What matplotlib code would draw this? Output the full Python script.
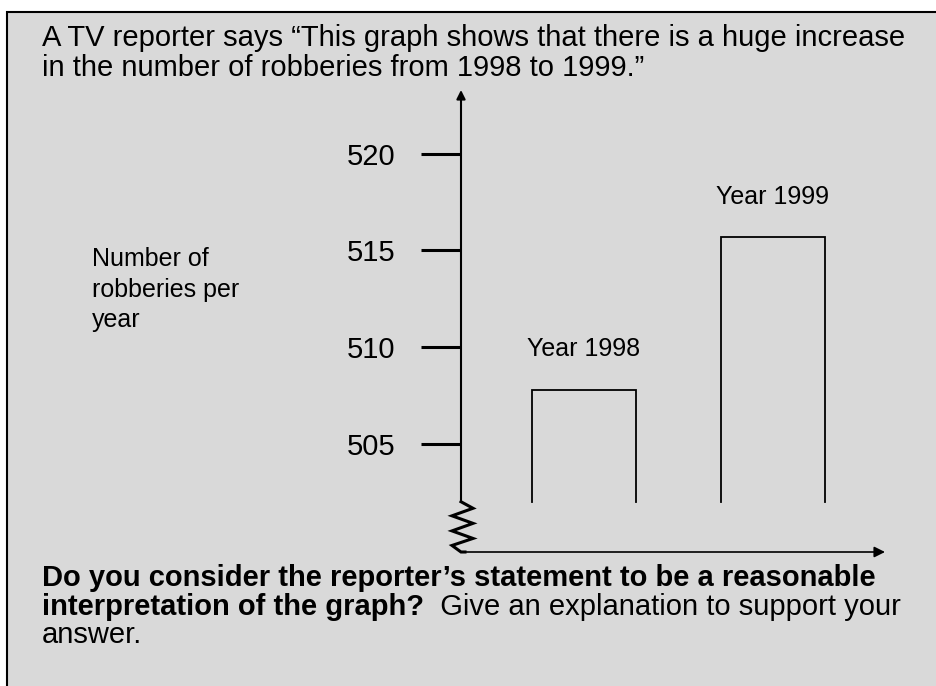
import matplotlib
matplotlib.use("Agg")
import matplotlib.pyplot as plt
from matplotlib.patches import Rectangle

plt.rcParams['font.family'] = ['Liberation Sans', 'DejaVu Sans']

# data
years = ["Year 1998", "Year 1999"]
robberies = [507.8, 515.7]
bar_base = 502
yticks = [505, 510, 515, 520]

header = ["A TV reporter says \u201cThis graph shows that there is a huge increase",
          "in the number of robberies from 1998 to 1999.\u201d"]
ylabel = "Number of\nrobberies per\nyear"
question_bold = ["Do you consider the reporter\u2019s statement to be a reasonable",
                 "interpretation of the graph?"]
question_rest = ["  Give an explanation to support your", "answer."]

W, H = 937, 686
fig = plt.figure(figsize=(W / 100, H / 100), dpi=100)


def fx(px):
    return px / W


def fy(py):
    return 1 - py / H


# grey panel with border (runs off the right and bottom edges)
fig.patches.append(Rectangle((fx(7), -0.05), 1.2, fy(12) + 0.05, transform=fig.transFigure,
                             facecolor="#d9d9d9", edgecolor="black", lw=1.5, zorder=-10))

for i, line in enumerate(header):
    fig.text(fx(42), fy(46 + 30 * i), line, fontsize=21, va="baseline", ha="left")

fig.text(fx(92), fy(247), ylabel, fontsize=18, va="top", ha="left", linespacing=1.35)

# chart
ax = fig.add_axes([fx(461), fy(552), fx(885 - 461), (552 - 90) / H])
ax.set_facecolor("none")
for s in ax.spines.values():
    s.set_visible(False)
ax.set_ylim(499.4, 523.3)
ax.set_xlim(-0.651, 1.593)
ax.set_yticks(yticks)
ax.tick_params(axis="y", direction="out", length=29, width=2.2, pad=18, labelsize=21)
ax.tick_params(axis="x", bottom=False, labelbottom=False)

w = 0.55
for i, (name, v) in enumerate(zip(years, robberies)):
    ax.plot([i - w / 2, i - w / 2, i + w / 2, i + w / 2], [bar_base, v, v, bar_base],
            color="black", lw=1.3, solid_joinstyle="miter")
    ax.annotate(name, (i, v), xytext=(0, 29), textcoords="offset points",
                ha="center", va="center", fontsize=18)

# vertical axis with arrow
yax = ax.get_yaxis_transform()
ax.annotate("", xy=(0, 1), xycoords="axes fraction", xytext=(0, bar_base), textcoords=yax,
            arrowprops=dict(arrowstyle="-|>", color="black", lw=1.5, mutation_scale=13,
                            shrinkA=0, shrinkB=0))

# broken axis zigzag
zz_x = [0, 12, -9, 12, -9, 12, -9, 0, 4]
zz_t = [0, 0.13, 0.28, 0.43, 0.58, 0.73, 0.87, 1.0, 1.0]
ylo = ax.get_ylim()[0]
ax.plot([px / 424 for px in zz_x], [bar_base - t * (bar_base - ylo) for t in zz_t],
        transform=yax, color="black", lw=2.2, clip_on=False, solid_joinstyle="miter")

# horizontal axis with arrow
ax.annotate("", xy=(1, 0), xycoords="axes fraction", xytext=(4 / 424, 0),
            arrowprops=dict(arrowstyle="-|>", color="black", lw=1.2, mutation_scale=16,
                            shrinkA=0, shrinkB=0))

# question text: bold part then regular continuation
for i, line in enumerate(question_bold):
    fig.text(fx(42), fy(586 + 29 * i), line, fontsize=21, fontweight="bold",
             va="baseline", ha="left")
fig.canvas.draw()
bold2 = fig.texts[-1]
bb = bold2.get_window_extent(fig.canvas.get_renderer())
fig.text(bb.x1 / W, fy(615), question_rest[0], fontsize=21, va="baseline", ha="left")
fig.text(fx(42), fy(643), question_rest[1], fontsize=21, va="baseline", ha="left")

fig.savefig("out.png", dpi=100, facecolor="white")
